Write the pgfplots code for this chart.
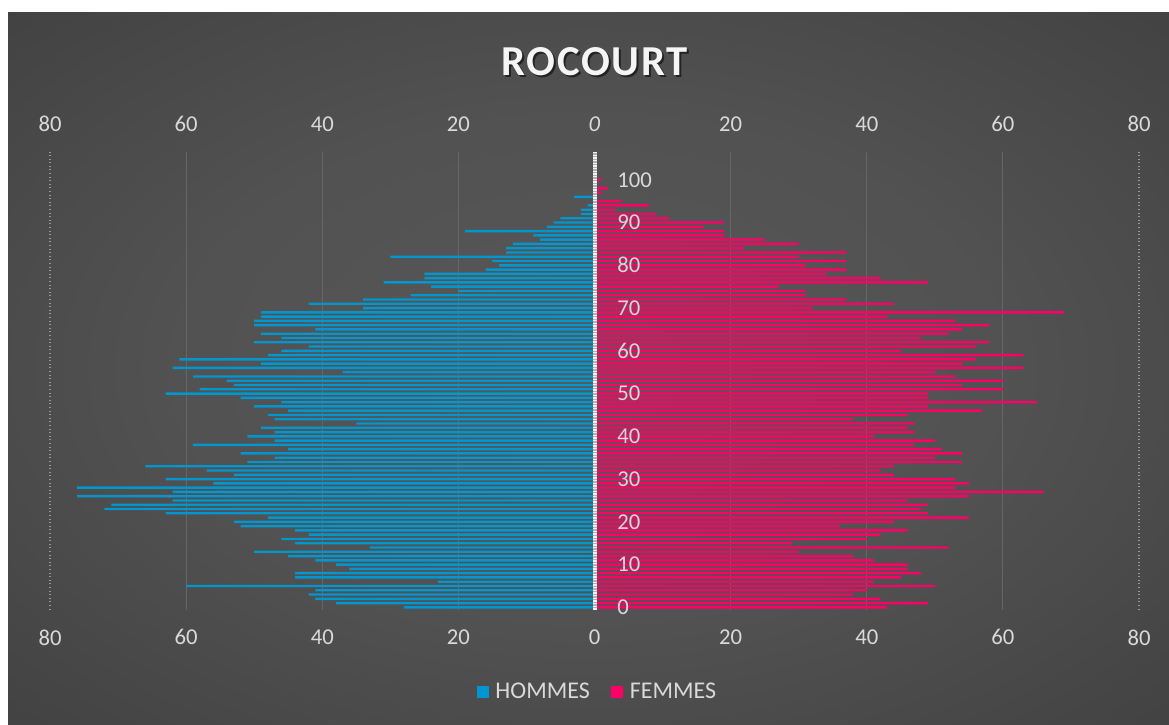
\documentclass[border=0pt]{standalone}
\usepackage{fontspec}
\setmainfont{Carlito}
\usepackage{pgfplots}
\usepackage{pgfplotstable}
\pgfplotsset{compat=1.18}
\definecolor{hom}{RGB}{0,150,208}
\definecolor{fem}{RGB}{255,0,102}
\definecolor{txt}{RGB}{217,217,217}
\definecolor{gridc}{RGB}{102,102,102}
\pgfdeclareradialshading{bgshade}{\pgfpoint{0bp}{0bp}}{rgb(0bp)=(0.345,0.345,0.345); rgb(18bp)=(0.32,0.32,0.32); rgb(50bp)=(0.21,0.21,0.21); rgb(72bp)=(0.16,0.16,0.16)}

\pgfplotstableread{
age h f
0 -28 43
1 -38 49
2 -41 42
3 -42 38
4 -41 40
5 -60 50
6 -23 41
7 -44 45
8 -44 48
9 -36 46
10 -38 46
11 -41 41
12 -45 38
13 -50 30
14 -33 52
15 -44 29
16 -46 40
17 -42 42
18 -44 46
19 -52 36
20 -53 44
21 -48 55
22 -63 49
23 -72 48
24 -71 49
25 -62 46
26 -76 55
27 -62 66
28 -76 53
29 -56 55
30 -63 53
31 -53 44
32 -57 42
33 -66 44
34 -51 54
35 -47 50
36 -52 54
37 -45 51
38 -59 47
39 -47 50
40 -51 41
41 -47 47
42 -49 46
43 -35 47
44 -47 38
45 -48 46
46 -45 57
47 -50 49
48 -46 65
49 -52 49
50 -63 49
51 -58 60
52 -53 54
53 -54 60
54 -59 53
55 -37 50
56 -62 63
57 -49 54
58 -61 56
59 -48 63
60 -46 45
61 -42 56
62 -50 58
63 -46 48
64 -49 52
65 -41 54
66 -50 58
67 -50 53
68 -49 43
69 -49 69
70 -34 32
71 -42 44
72 -34 37
73 -27 31
74 -20 31
75 -24 27
76 -31 49
77 -25 42
78 -25 34
79 -16 37
80 -14 31
81 -15 37
82 -30 30
83 -13 37
84 -13 22
85 -12 30
86 -8 25
87 -9 19
88 -19 19
89 -7 16
90 -6 19
91 -5 11
92 -2 9
93 -2 3
94 -1 8
95 0 4
96 -3 0
97 0 1
98 0 2
99 0 0
100 0 1
}\pyr

\begin{document}
\begin{tikzpicture}
\path[fill=white] (0,0) rectangle (876.75pt,543pt);
\shade[shading=bgshade] (6pt,0) rectangle (876.75pt,533.25pt);
\node[font=\fontsize{32}{38}\bfseries\selectfont\addfontfeature{LetterSpace=4}, text=black, opacity=0.55] at (447.4pt,495pt) {ROCOURT};
\node[font=\fontsize{32}{38}\bfseries\selectfont\addfontfeature{LetterSpace=4}, text=white!96!black] at (446pt,496.5pt) {ROCOURT};
\begin{axis}[
  at={(37.5pt,85.875pt)}, anchor=south west,
  scale only axis, width=816.75pt, height=343.125pt,
  xmin=-80, xmax=80, ymin=-0.5, ymax=106.5,
  axis line style={draw=none},
  major tick length=0pt,
  xtick={-60,-40,-20,0,20,40,60},
  xticklabels={60,40,20,0,20,40,60},
  extra x ticks={-80,80},
  extra x tick labels={80,80},
  extra x tick style={major grid style={dotted, color=gray!80, line width=0.8pt}},
  xmajorgrids,
  major grid style={gridc, line width=0.7pt},
  ytick=\empty,
  tick label style={font=\fontsize{17}{20}\selectfont, text=txt},
  xticklabel style={yshift=-11.5pt},
  legend style={at={(0.503,-0.18)}, anchor=center, draw=none, fill=none, text=txt,
    font=\fontsize{18}{21}\selectfont, legend columns=2,
    /tikz/every odd column/.append style={column sep=3pt},
    /tikz/every even column/.append style={column sep=14pt}},
  legend image code/.code={\fill[#1] (0pt,-4.5pt) rectangle (9pt,4.5pt);},
]
\addplot[xbar, bar shift=0pt, bar width=1.8pt, fill=hom, draw=none] table[x=h, y=age] {\pyr};
\addplot[xbar, bar shift=0pt, bar width=1.8pt, fill=fem, draw=none] table[x=f, y=age] {\pyr};
\legend{HOMMES, FEMMES}
\addplot[forget plot, draw=gray!60!white, line width=3pt] coordinates {(0,-0.5) (0,106.5)};
\addplot[forget plot, draw=white!90!gray, line width=3pt, dash pattern=on 1pt off 1pt] coordinates {(0,-0.5) (0,106.5)};
\end{axis}
\begin{axis}[
  at={(37.5pt,85.875pt)}, anchor=south west,
  scale only axis, width=816.75pt, height=343.125pt,
  xmin=-80, xmax=80, ymin=-0.5, ymax=106.5,
  axis line style={draw=none},
  major tick length=0pt,
  xtick={-80,-60,-40,-20,0,20,40,60,80},
  xticklabels={80,60,40,20,\textit{0},20,40,60,80},
  xticklabel pos=upper,
  ytick={0,10,20,30,40,50,60,70,80,90,100},
  yticklabels={0,10,20,30,40,50,60,70,80,90,100},
  yticklabel style={anchor=west, xshift=422pt},
  tick label style={font=\fontsize{17}{20}\selectfont, text=txt},
  xticklabel style={yshift=12pt},
]
\end{axis}
\end{tikzpicture}
\end{document}
